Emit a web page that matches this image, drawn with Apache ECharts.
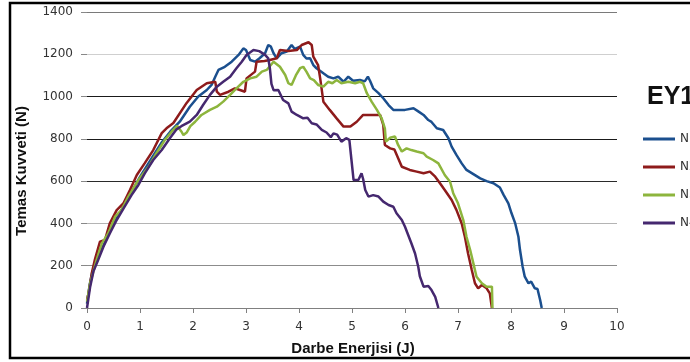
<!DOCTYPE html>
<html>
<head>
<meta charset="utf-8">
<script src="https://cdn.jsdelivr.net/npm/echarts@6/dist/echarts.min.js"></script>
<style>
html,body{margin:0;padding:0;overflow:hidden;background:#fff;width:690px;height:362px;}
#chart{width:720px;height:362px;}
</style>
</head>
<body>
<div id="chart"></div>
<script>
// ---- data (energy J, force N) ----
const seriesNames = ['N1', 'N2', 'N3', 'N4'];
const xTicks = [0,1,2,3,4,5,6,7,8,9,10];
const yTicks = [0,200,400,600,800,1000,1200,1400];

const n1Energy = [0,0.05,0.1,0.2,0.3,0.4,0.5,0.6,0.75,0.9,1.0,1.1,1.25,1.4,1.57,1.75,1.94,2.10,2.26,2.35,2.42,2.48,2.60,2.73,2.86,2.95,3.0,3.08,3.17,3.25,3.36,3.42,3.47,3.52,3.58,3.67,3.77,3.86,3.92,4.02,4.08,4.14,4.21,4.27,4.33,4.46,4.55,4.65,4.74,4.84,4.93,5.02,5.15,5.24,5.30,5.34,5.40,5.50,5.59,5.69,5.78,5.9,6.0,6.16,6.25,6.35,6.44,6.5,6.60,6.72,6.82,6.88,6.97,7.07,7.16,7.29,7.42,7.54,7.67,7.79,7.86,7.95,8.01,8.08,8.14,8.17,8.22,8.26,8.33,8.38,8.45,8.5,8.55,8.58];
const n1Force  = [20,110,170,240,290,345,400,440,510,575,620,660,720,780,834,881,952,1000,1031,1055,1094,1126,1141,1165,1197,1228,1220,1173,1165,1180,1205,1244,1236,1205,1181,1205,1213,1244,1225,1236,1197,1180,1181,1149,1134,1110,1094,1086,1094,1070,1094,1075,1078,1072,1094,1075,1039,1016,992,960,937,937,937,945,930,913,889,880,850,842,803,763,724,684,653,633,613,600,590,570,535,495,448,400,337,274,195,148,117,125,93,90,38,0];

const n2Energy = [0,0.03,0.09,0.15,0.245,0.34,0.43,0.56,0.69,0.81,0.94,1.09,1.25,1.41,1.5,1.63,1.88,2.07,2.26,2.42,2.45,2.51,2.67,2.79,2.90,2.98,3.01,3.17,3.2,3.35,3.45,3.58,3.64,3.80,3.96,4.05,4.18,4.24,4.27,4.36,4.40,4.46,4.58,4.71,4.84,4.97,5.09,5.21,5.40,5.53,5.59,5.62,5.72,5.8,5.94,6.09,6.22,6.35,6.47,6.57,6.66,6.75,6.88,6.97,7.07,7.13,7.19,7.26,7.32,7.38,7.45,7.54,7.60,7.64];
const n2Force  = [40,70,164,230,314,322,400,463,496,558,629,685,747,827,850,875,970,1031,1063,1070,1023,1008,1023,1039,1030,1023,1086,1118,1165,1168,1173,1181,1220,1215,1220,1244,1257,1244,1189,1149,1086,976,937,897,858,858,881,913,913,913,866,771,755,750,668,653,645,637,645,621,590,558,511,464,400,337,258,180,117,93,109,93,69,0];

const n3Energy = [0,0.06,0.18,0.28,0.40,0.53,0.65,0.78,0.97,1.16,1.31,1.47,1.60,1.70,1.78,1.82,1.88,1.95,2.04,2.16,2.32,2.45,2.57,2.70,2.82,2.95,3.08,3.20,3.30,3.39,3.52,3.64,3.74,3.80,3.86,3.94,4.02,4.08,4.14,4.21,4.28,4.36,4.46,4.55,4.63,4.71,4.80,4.93,5.06,5.15,5.21,5.28,5.37,5.47,5.56,5.62,5.64,5.72,5.81,5.87,5.94,6.03,6.12,6.22,6.35,6.41,6.53,6.63,6.75,6.85,6.91,7.0,7.1,7.16,7.23,7.29,7.35,7.45,7.54,7.64,7.65];
const n3Force  = [30,118,227,306,353,432,463,527,605,668,732,795,835,862,835,818,830,860,881,913,937,952,976,1008,1039,1070,1086,1094,1118,1126,1165,1141,1102,1063,1055,1100,1134,1141,1118,1086,1078,1055,1047,1070,1063,1078,1063,1070,1063,1070,1063,1016,976,937,897,850,787,805,811,771,740,755,747,740,732,716,700,684,629,597,543,495,416,337,274,211,148,117,101,101,0];

const n4Energy = [0,0.06,0.12,0.21,0.31,0.43,0.56,0.69,0.84,0.97,1.09,1.25,1.41,1.57,1.69,1.78,1.94,2.07,2.19,2.32,2.45,2.57,2.70,2.82,2.92,3.01,3.14,3.25,3.36,3.42,3.45,3.48,3.52,3.61,3.70,3.80,3.86,3.96,4.08,4.16,4.24,4.33,4.43,4.52,4.60,4.65,4.72,4.80,4.89,4.95,4.99,5.03,5.12,5.18,5.21,5.25,5.31,5.40,5.50,5.59,5.69,5.78,5.84,5.94,6.0,6.06,6.12,6.19,6.25,6.28,6.35,6.44,6.50,6.57,6.63];
const n4Force  = [0,101,172,227,290,353,416,471,534,582,637,700,747,805,845,860,881,913,960,1008,1047,1070,1094,1134,1165,1197,1220,1215,1197,1181,1134,1060,1030,1031,984,968,929,913,897,900,874,868,842,830,808,826,820,787,803,795,700,605,605,637,610,558,527,534,527,503,487,479,448,416,384,345,306,258,195,150,101,104,85,53,0];

const colors = ['#1b4f8e', '#8e1b1b', '#8db53d', '#45286f'];
const gridColors = ['#808080','#8c8c8c','#b4b4b4','#2a2a2a','#1a1a1a','#1a1a1a','#cfcfcf','#7a7a7a'];

function pairs(xs, ys){ return xs.map((x,i)=>[x, ys[i]]); }
const allData = [pairs(n1Energy,n1Force), pairs(n2Energy,n2Force), pairs(n3Energy,n3Force), pairs(n4Energy,n4Force)];

const chart = echarts.init(document.getElementById('chart'), null, {renderer:'canvas'});
const labelFont = {color:'#333', fontFamily:'DejaVu Sans', fontSize:12};

chart.setOption({
  animation:false,
  backgroundColor:'#fff',
  grid:{left:87, right:103, top:12, bottom:54},
  xAxis:{
    type:'value', min:0, max:10, interval:1,
    axisLine:{show:true, lineStyle:{color:'#808080', width:1}},
    axisTick:{show:true, length:5, lineStyle:{color:'#808080'}},
    splitLine:{show:false},
    axisLabel:Object.assign({margin:13, formatter:v=>xTicks.includes(v)?String(v):''}, labelFont)
  },
  yAxis:{
    type:'value', min:0, max:1400, interval:200,
    axisLine:{show:false},
    axisTick:{show:true, length:6, lineStyle:{color:'#888'}},
    splitLine:{show:true, lineStyle:{color:gridColors, width:1}},
    axisLabel:Object.assign({margin:14, formatter:v=>yTicks.includes(v)?String(v):''}, labelFont)
  },
  legend:{
    orient:'vertical', left:643, top:132, padding:0,
    icon:'rect', itemWidth:32, itemHeight:3, itemGap:14,
    textStyle:{color:'#333', fontFamily:'DejaVu Sans', fontSize:12, lineHeight:14},
    data:seriesNames
  },
  graphic:[
    {type:'polyline', shape:{points:[[820,3],[10,3],[10,358],[820,358]]}, style:{fill:'none', stroke:'#000', lineWidth:2.5}, silent:true},
    {type:'text', x:22, y:171, rotation:Math.PI/2, style:{text:'Temas Kuvveti (N)', font:'bold 15px "Liberation Sans", Arial', fill:'#111', align:'center', verticalAlign:'middle'}},
    {type:'text', x:353, y:349, style:{text:'Darbe Enerjisi (J)', font:'bold 15px "Liberation Sans", Arial', fill:'#111', align:'center', verticalAlign:'middle'}},
    {type:'text', x:647, y:97, style:{text:'EY1', font:'bold 25px "Liberation Sans", Arial', fill:'#111', align:'left', verticalAlign:'middle'}}
  ],
  series: seriesNames.map((n,i)=>({
    name:n, type:'line', data:allData[i], showSymbol:false, symbol:'none',
    lineStyle:{color:colors[i], width:2.5}, itemStyle:{color:colors[i]}, z:2+i
  }))
});
</script>
</body>
</html>
